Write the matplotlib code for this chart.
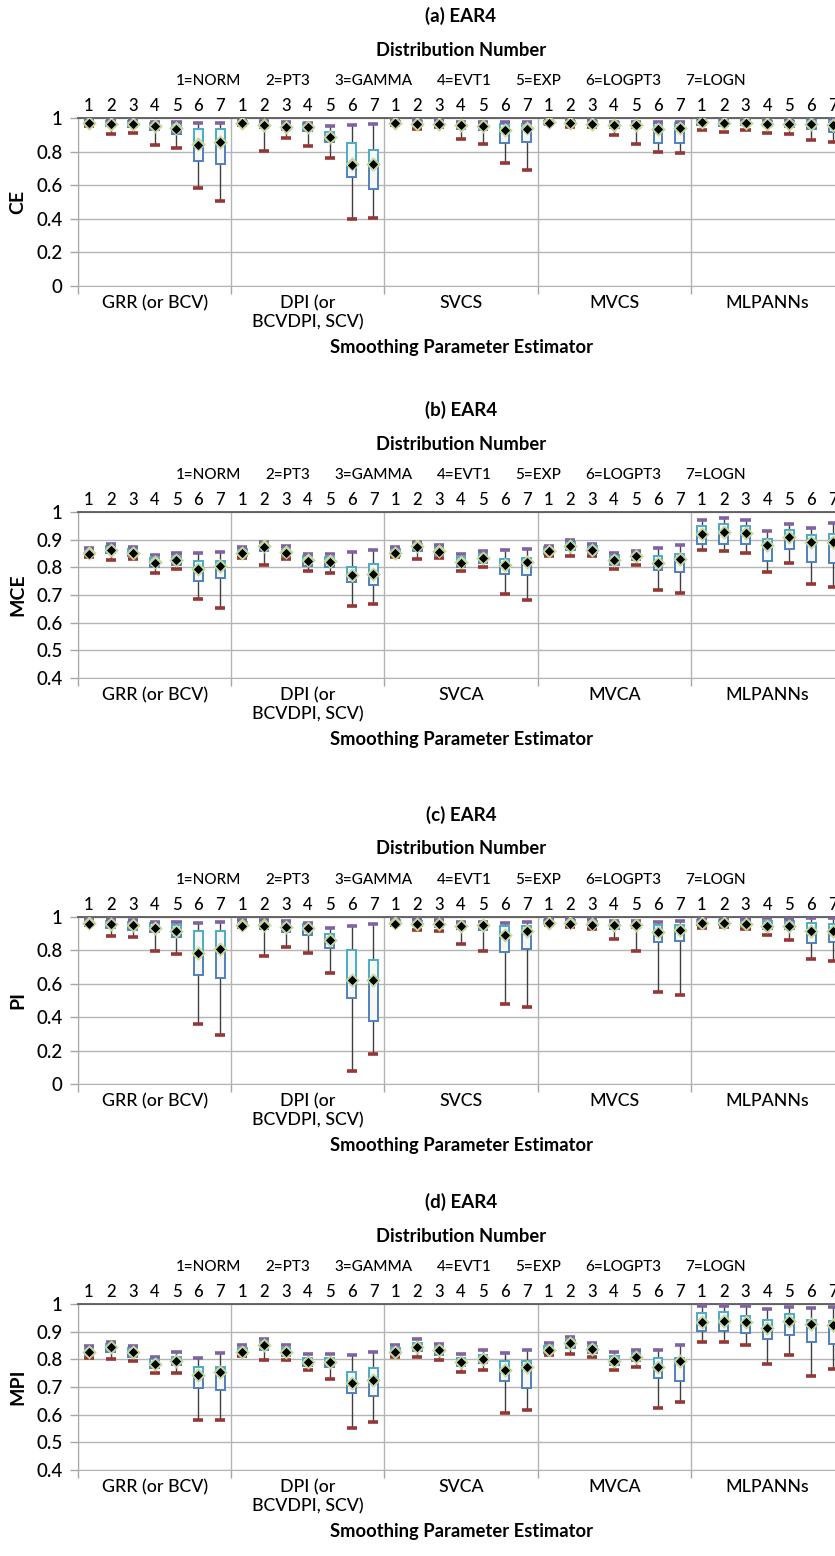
import matplotlib
matplotlib.use("Agg")
import matplotlib.pyplot as plt
import numpy as np

plt.rcParams['font.family'] = ['Lato', 'DejaVu Sans']
plt.rcParams['font.weight'] = 'medium'

# ---------------------------------------------------------------- data
DIST_NUMBERS = ["1", "2", "3", "4", "5", "6", "7"]
DIST_NAMES = ["1=NORM", "2=PT3", "3=GAMMA", "4=EVT1", "5=EXP", "6=LOGPT3", "7=LOGN"]
EST_CS = ["GRR (or BCV)", "DPI (or\nBCVDPI, SCV)", "SVCS", "MVCS", "MLPANNs"]
EST_CA = ["GRR (or BCV)", "DPI (or\nBCVDPI, SCV)", "SVCA", "MVCA", "MLPANNs"]

# (a) CE  -- order: GRR, DPI, SVCS, MVCS, MLPANNs; distributions 1..7 within each
CE_MIN = [.955, .906, .910, .842, .820, .584, .508,
          .958, .802, .880, .832, .760, .396, .404,
          .958, .936, .946, .876, .846, .732, .692,
          .962, .946, .946, .896, .846, .800, .790,
          .930, .916, .930, .912, .906, .872, .856]
CE_Q1 = [.962, .950, .948, .930, .905, .742, .726,
         .962, .940, .930, .925, .856, .650, .580,
         .962, .952, .955, .935, .928, .850, .856,
         .966, .958, .955, .940, .940, .852, .850,
         .960, .955, .958, .950, .948, .935, .915]
CE_MED = [.970, .966, .966, .952, .938, .845, .858,
          .970, .958, .948, .948, .888, .725, .728,
          .970, .966, .966, .958, .952, .928, .938,
          .974, .970, .966, .960, .960, .936, .940,
          .975, .970, .970, .966, .964, .962, .960]
CE_Q3 = [.985, .985, .982, .972, .968, .936, .936,
         .985, .982, .970, .968, .916, .850, .812,
         .985, .985, .982, .972, .972, .965, .965,
         .985, .985, .982, .975, .975, .970, .970,
         .988, .988, .985, .985, .985, .990, .990]
CE_MAX = [.990, .990, .990, .978, .976, .972, .972,
          .990, .985, .976, .972, .950, .956, .962,
          .990, .990, .988, .976, .976, .976, .976,
          .990, .990, .988, .978, .978, .976, .976,
          .995, .995, .993, .993, .993, .998, .998]
CE_MEAN = [.968, .964, .964, .950, .936, .842, .856,
           .968, .956, .946, .946, .886, .722, .726,
           .968, .965, .964, .956, .950, .926, .936,
           .972, .968, .964, .958, .958, .936, .940,
           .975, .970, .970, .965, .963, .962, .960]

# (b) MCE -- order: GRR, DPI, SVCA, MVCA, MLPANNs
MCE_MIN = [.838, .826, .830, .780, .793, .685, .654,
           .835, .808, .830, .788, .780, .662, .667,
           .838, .829, .835, .788, .802, .703, .683,
           .841, .841, .841, .793, .808, .719, .709,
           .862, .859, .850, .784, .817, .740, .730]
MCE_Q1 = [.840, .850, .842, .800, .810, .750, .760,
          .840, .860, .842, .805, .803, .748, .737,
          .842, .860, .845, .802, .815, .775, .771,
          .848, .862, .850, .810, .825, .790, .784,
          .884, .886, .883, .824, .865, .820, .814]
MCE_MED = [.850, .864, .852, .818, .828, .795, .806,
           .852, .876, .855, .825, .822, .772, .776,
           .852, .876, .858, .818, .834, .808, .820,
           .860, .878, .862, .826, .842, .815, .830,
           .922, .928, .925, .880, .910, .892, .892]
MCE_Q3 = [.862, .878, .866, .835, .845, .822, .822,
          .865, .886, .870, .840, .838, .800, .812,
          .866, .886, .872, .838, .850, .830, .832,
          .872, .892, .876, .845, .855, .842, .847,
          .950, .955, .950, .904, .934, .916, .922]
MCE_MAX = [.871, .884, .872, .844, .853, .850, .856,
           .874, .892, .878, .848, .848, .856, .862,
           .874, .892, .880, .848, .860, .862, .866,
           .878, .898, .883, .853, .860, .871, .880,
           .972, .978, .972, .932, .958, .943, .960]
MCE_MEAN = [.848, .862, .850, .817, .826, .793, .805,
            .850, .874, .853, .824, .820, .772, .775,
            .850, .874, .856, .817, .832, .808, .820,
            .860, .878, .862, .826, .841, .814, .830,
            .922, .928, .925, .880, .910, .892, .892]

# (c) PI -- order: GRR, DPI, SVCS, MVCS, MLPANNs
PI_MIN = [.950, .884, .878, .794, .778, .362, .296,
          .938, .764, .820, .784, .664, .075, .180,
          .950, .920, .918, .840, .794, .478, .464,
          .955, .940, .930, .870, .794, .550, .534,
          .934, .940, .928, .890, .864, .750, .734]
PI_Q1 = [.955, .935, .922, .912, .878, .650, .634,
         .944, .930, .910, .890, .814, .514, .375,
         .955, .945, .942, .930, .920, .788, .808,
         .960, .950, .945, .930, .935, .850, .858,
         .950, .952, .948, .930, .930, .844, .850]
PI_MED = [.962, .960, .950, .934, .918, .785, .808,
          .952, .950, .940, .934, .860, .620, .624,
          .962, .960, .958, .944, .950, .894, .914,
          .964, .962, .956, .950, .955, .910, .924,
          .962, .965, .960, .948, .948, .918, .914]
PI_Q3 = [.980, .978, .972, .962, .955, .918, .914,
         .972, .975, .968, .958, .898, .800, .744,
         .980, .978, .975, .962, .965, .944, .944,
         .982, .980, .976, .968, .970, .950, .955,
         .980, .982, .980, .975, .975, .965, .960]
PI_MAX = [.988, .988, .984, .968, .968, .964, .968,
          .985, .985, .978, .964, .934, .944, .958,
          .988, .988, .985, .968, .972, .964, .968,
          .990, .988, .986, .975, .975, .968, .974,
          .990, .990, .990, .994, .990, .995, .995]
PI_MEAN = [.958, .960, .950, .934, .918, .784, .808,
           .944, .948, .940, .934, .860, .620, .624,
           .958, .960, .958, .944, .950, .894, .914,
           .962, .960, .955, .950, .955, .910, .924,
           .962, .965, .960, .948, .948, .918, .914]

# (d) MPI -- order: GRR, DPI, SVCA, MVCA, MLPANNs
MPI_MIN = [.804, .802, .795, .750, .750, .582, .580,
           .813, .798, .798, .760, .730, .550, .575,
           .810, .807, .798, .756, .760, .605, .618,
           .816, .820, .807, .762, .772, .625, .645,
           .862, .861, .852, .784, .816, .738, .765]
MPI_Q1 = [.815, .825, .810, .770, .780, .696, .690,
          .818, .832, .812, .775, .772, .678, .666,
          .818, .830, .815, .775, .785, .720, .696,
          .822, .842, .822, .780, .795, .732, .720,
          .903, .903, .894, .874, .888, .861, .855]
MPI_MED = [.828, .843, .825, .783, .795, .742, .756,
           .828, .852, .828, .790, .789, .714, .724,
           .828, .846, .832, .789, .800, .760, .772,
           .834, .858, .838, .795, .810, .772, .795,
           .934, .939, .934, .912, .940, .928, .925]
MPI_Q3 = [.840, .855, .840, .800, .810, .774, .774,
          .842, .862, .842, .805, .805, .753, .768,
          .842, .860, .845, .805, .815, .795, .795,
          .848, .870, .850, .812, .825, .804, .804,
          .966, .970, .958, .942, .963, .942, .940]
MPI_MAX = [.849, .864, .849, .810, .828, .804, .822,
           .852, .874, .852, .819, .819, .816, .828,
           .852, .873, .856, .819, .834, .822, .834,
           .858, .880, .860, .825, .834, .834, .852,
           .994, .994, .994, .981, .990, .987, .990]
MPI_MEAN = [.828, .843, .825, .783, .795, .742, .756,
            .828, .852, .828, .790, .789, .714, .724,
            .828, .846, .832, .789, .800, .760, .772,
            .834, .858, .838, .795, .810, .772, .795,
            .934, .939, .934, .912, .940, .928, .925]

# ---------------------------------------------------------------- layout
W, H = 835, 1556
AX_L, AX_R = 78, 844          # plot area spans past the right edge of the figure
CX = (AX_L + AX_R) / 2

C_WHISK = '#3f3f3f'
C_MAX = '#8064a2'
C_MIN = '#953735'
C_LOW = '#4f81bd'
C_UP = '#4bacc6'
C_FACE = '#f7f7f7'
C_MED = '#c3d69b'
C_GRID = '#b4b4b4'

PANELS = [
    dict(top=118, bottom=286, title='(a) EAR4', ylabel='CE', est=EST_CS,
         yticks=[0, 0.2, 0.4, 0.6, 0.8, 1.0], yticklabels=['0', '0.2', '0.4', '0.6', '0.8', '1'],
         ylim=(0, 1), stats=(CE_MIN, CE_Q1, CE_MED, CE_Q3, CE_MAX, CE_MEAN)),
    dict(top=512, bottom=678, title='(b) EAR4', ylabel='MCE', est=EST_CA,
         yticks=[0.4, 0.5, 0.6, 0.7, 0.8, 0.9, 1.0],
         yticklabels=['0.4', '0.5', '0.6', '0.7', '0.8', '0.9', '1'],
         ylim=(0.4, 1), stats=(MCE_MIN, MCE_Q1, MCE_MED, MCE_Q3, MCE_MAX, MCE_MEAN)),
    dict(top=917, bottom=1084, title='(c) EAR4', ylabel='PI', est=EST_CS,
         yticks=[0, 0.2, 0.4, 0.6, 0.8, 1.0], yticklabels=['0', '0.2', '0.4', '0.6', '0.8', '1'],
         ylim=(0, 1), stats=(PI_MIN, PI_Q1, PI_MED, PI_Q3, PI_MAX, PI_MEAN)),
    dict(top=1304, bottom=1470, title='(d) EAR4', ylabel='MPI', est=EST_CA,
         yticks=[0.4, 0.5, 0.6, 0.7, 0.8, 0.9, 1.0],
         yticklabels=['0.4', '0.5', '0.6', '0.7', '0.8', '0.9', '1'],
         ylim=(0.4, 1), stats=(MPI_MIN, MPI_Q1, MPI_MED, MPI_Q3, MPI_MAX, MPI_MEAN)),
]

fig = plt.figure(figsize=(W / 100, H / 100), dpi=100)
renderer = fig.canvas.get_renderer()


def fy(py):
    return 1 - py / H


def fx(px):
    return px / W


def legend_row(py):
    texts = [fig.text(0, fy(py), s, fontsize=11, ha='left', va='center') for s in DIST_NAMES]
    widths = [t.get_window_extent(renderer).width for t in texts]
    gap = 24
    total = sum(widths) + gap * (len(widths) - 1)
    x = CX - total / 2
    for t, w in zip(texts, widths):
        t.set_x(fx(x))
        x += w + gap


n_groups = 5
n_dist = len(DIST_NUMBERS)
pos = np.arange(n_groups * n_dist) + 0.5

for p in PANELS:
    top, bot = p['top'], p['bottom']
    ax = fig.add_axes([fx(AX_L), fy(bot), (AX_R - AX_L) / W, (bot - top) / H])
    ax.set_xlim(0, n_groups * n_dist)
    ax.set_ylim(*p['ylim'])

    mins, q1, med, q3, maxs, means = (np.asarray(a) for a in p['stats'])

    ax.vlines(pos, mins, maxs, color=C_WHISK, lw=1.0, zorder=3)
    ax.bar(pos, med - q1, bottom=q1, width=0.4, facecolor=C_FACE,
           edgecolor=C_LOW, linewidth=1.4, zorder=4)
    ax.bar(pos, q3 - med, bottom=med, width=0.4, facecolor=C_FACE,
           edgecolor=C_UP, linewidth=1.4, zorder=4)
    ax.hlines(maxs, pos - 0.23, pos + 0.23, color=C_MAX, lw=2.6, zorder=5)
    ax.hlines(mins, pos - 0.23, pos + 0.23, color=C_MIN, lw=2.6, zorder=5)
    ax.scatter(pos, med, marker='D', s=55, color=C_MED, linewidths=0, zorder=6)
    ax.scatter(pos, means, marker='D', s=22, color='black', linewidths=0, zorder=7)

    # y axis
    ax.set_yticks(p['yticks'])
    ax.set_yticklabels(p['yticklabels'], fontsize=13.5)
    ax.tick_params(axis='y', length=6, width=1, color='#a6a6a6', pad=5)
    ax.grid(axis='y', color=C_GRID, lw=1)

    # distribution numbers along the top
    ax.set_xticks(pos)
    ax.set_xticklabels(DIST_NUMBERS * n_groups, fontsize=12)
    ax.tick_params(axis='x', which='major', bottom=False, top=True,
                   labelbottom=False, labeltop=True, length=0, pad=3)
    # estimator separators
    ax.set_xticks(np.arange(0, n_groups * n_dist + 1, n_dist), minor=True)
    ax.tick_params(axis='x', which='minor', bottom=True, top=False,
                   length=6, width=1, color='#a6a6a6')
    ax.grid(axis='x', which='minor', color=C_GRID, lw=1)
    ax.set_axisbelow(True)

    ax.spines['right'].set_visible(False)
    ax.spines['top'].set_color('#5a5a5a')
    ax.spines['top'].set_linewidth(1.3)
    ax.spines['left'].set_color('#a6a6a6')
    ax.spines['bottom'].set_color(C_GRID)

    # estimator names below each group
    for g, name in enumerate(p['est']):
        ax.text((g + 0.5) * n_dist, -9 / (bot - top), name,
                transform=ax.get_xaxis_transform(),
                ha='center', va='top', fontsize=12.8, linespacing=1.2)

    fig.text(fx(CX), fy(bot + 61), 'Smoothing Parameter Estimator', ha='center',
             va='center', fontsize=13.2, weight='bold')
    fig.text(fx(CX), fy(top - 102), p['title'], ha='center', va='center',
             fontsize=13.5, weight='bold')
    fig.text(fx(CX), fy(top - 68), 'Distribution Number', ha='center', va='center',
             fontsize=13.2, weight='bold')
    legend_row(top - 37)
    fig.text(fx(18), fy((top + bot) / 2), p['ylabel'], rotation=90, ha='center',
             va='center', fontsize=14, weight='bold')

fig.savefig('out.png', dpi=100)
